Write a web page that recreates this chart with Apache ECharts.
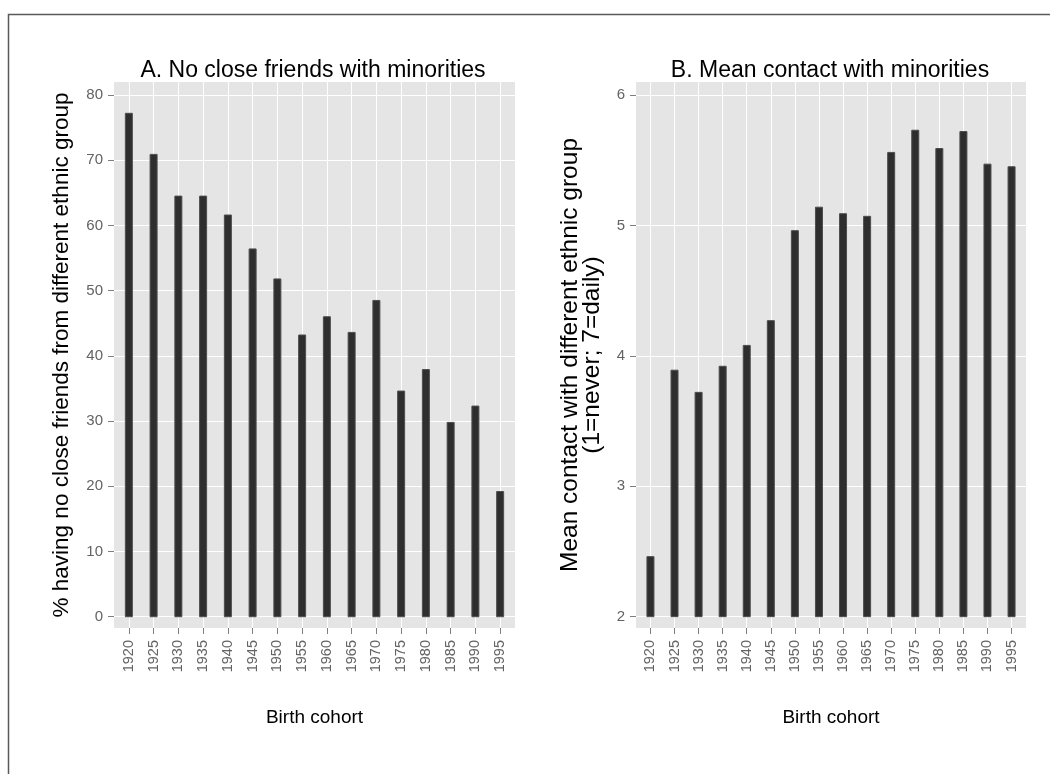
<!DOCTYPE html>
<html>
<head>
<meta charset="utf-8">
<script src="https://cdn.jsdelivr.net/npm/echarts@6/dist/echarts.min.js"></script>
<style>
  html, body { margin: 0; padding: 0; background: #fff; }
  #chart { width: 1050px; height: 774px; }
</style>
</head>
<body>
<div id="chart"></div>
<script>
// Birth cohorts shared by both panels
const cohorts = ['1920', '1925', '1930', '1935', '1940', '1945', '1950', '1955',
                 '1960', '1965', '1970', '1975', '1980', '1985', '1990', '1995'];

// Panel A: % having no close friends from a different ethnic group
const noCloseFriends = [77.2, 70.9, 64.5, 64.5, 61.6, 56.4, 51.8, 43.2,
                        46.0, 43.6, 48.5, 34.6, 37.9, 29.8, 32.3, 19.2];

// Panel B: mean contact with a different ethnic group (1=never; 7=daily)
const meanContact = [2.46, 3.89, 3.72, 3.92, 4.08, 4.27, 4.96, 5.14,
                     5.09, 5.07, 5.56, 5.73, 5.59, 5.72, 5.47, 5.45];

// Tick values on the value axes
const ticksA = [0, 10, 20, 30, 40, 50, 60, 70, 80];
const ticksB = [2, 3, 4, 5, 6];
const baseB = 2;

const cohortIdx = cohorts.map((c, i) => i);
const FONT = '"Liberation Sans", Arial, Helvetica, sans-serif';
const TICK_GREY = '#7f7f7f';
const LABEL_GREY = '#636363';

function xAxisFor(gridIndex) {
  return {
    gridIndex, type: 'value', min: -0.6, max: 15.6,
    axisLine: { show: false, onZero: false },
    axisTick: { show: true, customValues: cohortIdx, length: 6, lineStyle: { color: TICK_GREY, width: 1 } },
    axisLabel: {
      customValues: cohortIdx, rotate: 90, margin: 12,
      color: LABEL_GREY, fontSize: 14.5, fontFamily: FONT,
      formatter: v => cohorts[Math.round(v)]
    },
    splitLine: { show: true, lineStyle: { color: '#ffffff', width: 1 } },
    name: 'Birth cohort', nameLocation: 'middle', nameGap: 80,
    nameTextStyle: { color: '#000', fontSize: 19, fontFamily: FONT }
  };
}

function yAxisFor(gridIndex, min, max, ticks, name, nameGap, nameSize) {
  return {
    gridIndex, type: 'value', min, max,
    axisLine: { show: false, onZero: false },
    axisTick: { show: true, customValues: ticks, length: 6, lineStyle: { color: TICK_GREY, width: 1 } },
    axisLabel: { customValues: ticks, margin: 11, color: LABEL_GREY, fontSize: 15, fontFamily: FONT },
    splitLine: { show: true, lineStyle: { color: '#ffffff', width: 1.2 } },
    name, nameLocation: 'middle', nameGap, nameRotate: 90,
    nameTextStyle: { color: '#000', fontSize: nameSize, fontFamily: FONT, lineHeight: 22, align: 'center' }
  };
}

function barItem(params, api) {
  const i = api.value(0);
  const top = api.coord([i, api.value(1)]);
  const bot = api.coord([i, api.value(2)]);
  const w = 7;
  return {
    type: 'rect',
    shape: { x: top[0] - w / 2, y: top[1], width: w, height: bot[1] - top[1] },
    style: { fill: '#2e2e2e', stroke: '#4d4d4d', lineWidth: 1 }
  };
}

const chart = echarts.init(document.getElementById('chart'), null, { renderer: 'canvas' });

chart.setOption({
  backgroundColor: '#ffffff',
  animation: false,
  textStyle: { fontFamily: FONT },
  graphic: [{
    type: 'rect', silent: true, z: -10,
    shape: { x: 8.5, y: 14.5, width: 1100, height: 800 },
    style: { fill: 'none', stroke: '#5a5a5a', lineWidth: 1.5 }
  }],
  title: [
    { text: 'A. No close friends with minorities', left: 308, textAlign: 'center', top: 54,
      textStyle: { color: '#000', fontSize: 23, fontWeight: 'normal', fontFamily: FONT } },
    { text: 'B. Mean contact with minorities', left: 825, textAlign: 'center', top: 54,
      textStyle: { color: '#000', fontSize: 23, fontWeight: 'normal', fontFamily: FONT } }
  ],
  grid: [
    { left: 114, top: 82, width: 401, height: 546, show: true, backgroundColor: '#e5e5e5', borderWidth: 0 },
    { left: 636, top: 82, width: 390, height: 546, show: true, backgroundColor: '#e5e5e5', borderWidth: 0 }
  ],
  xAxis: [xAxisFor(0), xAxisFor(1)],
  yAxis: [
    yAxisFor(0, -1.73, 82, ticksA, '% having no close friends from different ethnic group', 41, 22.5),
    yAxisFor(1, 1.913, 6.1, ticksB, 'Mean contact with different ethnic group\n(1=never; 7=daily)', 33, 24.5)
  ],
  series: [
    { type: 'custom', xAxisIndex: 0, yAxisIndex: 0, renderItem: barItem,
      encode: { x: 0, y: 1 },
      data: noCloseFriends.map((v, i) => [i, v, 0]) },
    { type: 'custom', xAxisIndex: 1, yAxisIndex: 1, renderItem: barItem,
      encode: { x: 0, y: 1 },
      data: meanContact.map((v, i) => [i, v, baseB]) }
  ]
});
</script>
</body>
</html>
